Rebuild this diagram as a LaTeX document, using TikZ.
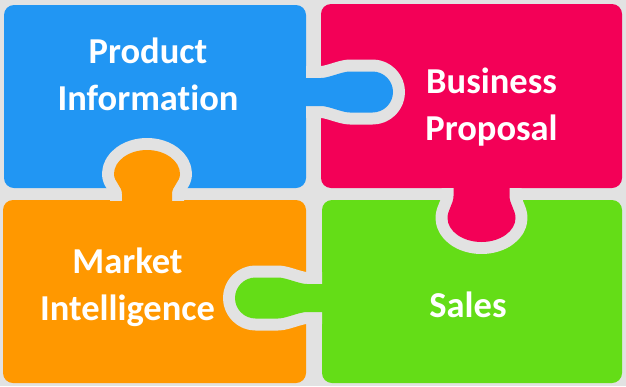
\documentclass[tikz,border=0pt]{standalone}
\usepackage{fontspec}
\setmainfont{Carlito}[Ligatures=NoCommon]
\definecolor{pcblue}{RGB}{33,150,243}
\definecolor{pcpink}{RGB}{243,0,87}
\definecolor{pcorange}{RGB}{255,152,0}
\definecolor{pcgreen}{RGB}{100,221,23}
\definecolor{gapgray}{RGB}{226,226,226}
% outline of one tab, pointing along +x from the edge at x=0
% #1 neck half width, #2 head half width, #3 length, #4 end of neck, #5 start of head
\newcommand{\tabshape}[5]{(-6,-#1) -- (#4,-#1)
	.. controls ({#4+8},-#1) and ({#5-8},-#2) .. (#5,-#2)
	-- ({#3-min(#2,#3-#5)},-#2)
	.. controls ({#3-0.45*min(#2,#3-#5)},-#2) and (#3,{-0.55*#2}) .. (#3,0)
	.. controls (#3,{0.55*#2}) and ({#3-0.45*min(#2,#3-#5)},#2) .. ({#3-min(#2,#3-#5)},#2)
	-- (#5,#2) .. controls ({#5-8},#2) and ({#4+8},#1) .. (#4,#1) -- (-6,#1) -- cycle}

\begin{document}
\begin{tikzpicture}[x=1pt,y=-1pt,
	piece/.style={rounded corners=10pt},
	gap/.style={draw=gapgray,line width=24pt,line join=round},
	label/.style={text=white,font=\fontsize{36.5}{47}\selectfont\bfseries,align=center,anchor=base}]
\useasboundingbox (0,0) rectangle (626,386);
% background
\fill[gapgray] (0,0) rectangle (626,386);
% pieces
\fill[pcblue,piece] (4,5) rectangle (306,188);
\fill[pcpink,piece] (321,4) rectangle (622,188);
\fill[pcorange,piece] (3,200) rectangle (306,383);
\fill[pcgreen,piece] (322,200) rectangle (622,383);
% tabs: gap around each one first, then the tab itself
\begin{scope}[shift={(306,92)}]
	\begin{scope}
		\clip (0,-70) rectangle (120,70);
		\draw[gap] \tabshape{14}{20.5}{87}{15}{44};
	\end{scope}
	\fill[pcblue] \tabshape{14}{20.5}{87}{15}{44};
\end{scope}
\begin{scope}[shift={(481.5,188)},rotate=-90]
	\begin{scope}
		\clip (0,-70) rectangle (120,70);
		\draw[gap] \tabshape{28}{34}{54}{8}{30};
	\end{scope}
	\fill[pcpink] \tabshape{28}{34}{54}{8}{30};
\end{scope}
\begin{scope}[shift={(147,200)},rotate=90]
	\begin{scope}
		\clip (0,-70) rectangle (120,70);
		\draw[gap] \tabshape{25}{33}{50}{6}{26};
	\end{scope}
	\fill[pcorange] \tabshape{25}{33}{50}{6}{26};
\end{scope}
\begin{scope}[shift={(322,298)},rotate=180]
	\begin{scope}
		\clip (0,-70) rectangle (120,70);
		\draw[gap] \tabshape{14}{20.5}{87}{15}{44};
	\end{scope}
	\fill[pcgreen] \tabshape{14}{20.5}{87}{15}{44};
\end{scope}
% labels (base is the last line)
\node[label] (prodinfo) at (148,110) {Product\\Information};
\node[label] (bizprop) at (491.5,140) {Business\\Proposal};
\node[label] (mktintel) at (127.5,320) {Market\\Intelligence};
\node[label] (sales) at (468,317) {Sales};
\end{tikzpicture}
\end{document}
